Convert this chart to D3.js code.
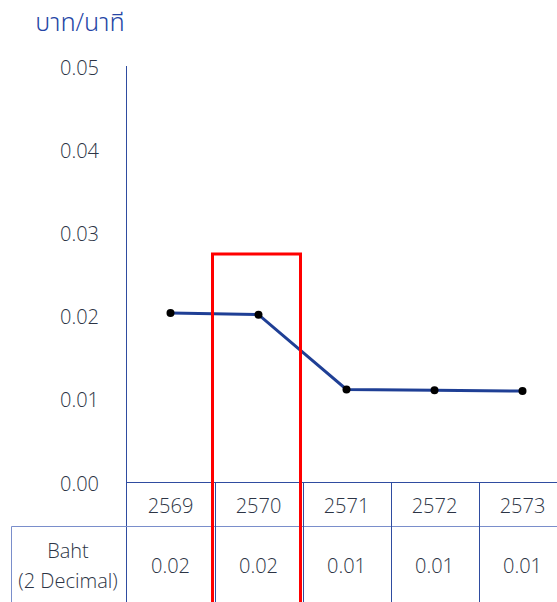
<!DOCTYPE html>
<html><head><meta charset="utf-8">
<script src="https://cdn.jsdelivr.net/npm/d3@7"></script>
<style>
html,body{margin:0;padding:0;background:#fff;}
svg{display:block;font-family:"Open Sans","Noto Sans","Noto Sans Thai",sans-serif;}
</style></head>
<body>
<svg id="c" width="557" height="602"></svg>
<script>
const years = ["2569","2570","2571","2572","2573"];
const values = [0.0204, 0.0202, 0.0112, 0.0111, 0.0110];
const tableLabels = ["0.02","0.02","0.01","0.01","0.01"];
const yTicks = [0, 0.01, 0.02, 0.03, 0.04, 0.05];
const unitLabel = "บาท/นาที";
const rowLabel = ["Baht", "(2 Decimal)"];
const highlightYear = "2570";
const highlightTop = 0.0275;

const svg = d3.select("#c");
const blue = "#2F4CA0";
const textCol = "#2c3445";
const fw = 300;
const fs = 20;

const x = d3.scaleBand().domain(years).range([126.5, 566.5]).padding(0);
const y = d3.scaleLinear().domain([0, 0.05]).range([482.5, 67]);

// unit label
svg.append("text").attr("x", 80).attr("y", 31).attr("text-anchor", "middle")
  .attr("fill", "#2545a5").attr("font-size", 25).attr("font-weight", 300).text(unitLabel);

// y tick labels
svg.append("g").selectAll("text").data(yTicks).join("text")
  .attr("x", 99).attr("y", d => y(d) + 1).attr("dy", "0.35em")
  .attr("text-anchor", "end").attr("fill", textCol).attr("font-size", fs).attr("font-weight", fw)
  .text(d => d3.format(".2f")(d));

// y axis line
const yAxis = d3.axisLeft(y).tickValues([]).tickSize(0);
svg.append("g").attr("transform", "translate(126.5,0)").call(yAxis)
  .call(g => g.select(".domain").attr("stroke", blue).attr("d", `M0,${y(0.05)-1}V602`));

// table lines
const tbl = svg.append("g").attr("stroke", blue).attr("stroke-width", 1);
const rowTop = 482.5, rowMid = 526.5, rowBot = 602;
tbl.append("line").attr("x1", 126.5).attr("x2", 557).attr("y1", rowTop).attr("y2", rowTop);
tbl.append("line").attr("x1", 11.5).attr("x2", 557).attr("y1", rowMid).attr("y2", rowMid).attr("stroke", "#7a8ecb");
tbl.append("line").attr("x1", 11.5).attr("x2", 11.5).attr("y1", rowMid).attr("y2", rowBot).attr("stroke", "#7a8ecb");
tbl.selectAll("line.v").data(years.slice(1)).join("line").attr("class", "v")
  .attr("x1", d => Math.round(x(d)) + 0.5).attr("x2", d => Math.round(x(d)) + 0.5)
  .attr("y1", rowTop).attr("y2", rowBot);

// year labels
svg.append("g").selectAll("text").data(years).join("text")
  .attr("x", d => x(d) + x.bandwidth() / 2).attr("y", (rowTop + rowMid) / 2 + 1).attr("dy", "0.35em")
  .attr("text-anchor", "middle").attr("fill", textCol).attr("font-size", fs).attr("font-weight", fw).text(d => d);

// value labels
svg.append("g").selectAll("text").data(tableLabels).join("text")
  .attr("x", (d, i) => x(years[i]) + x.bandwidth() / 2).attr("y", 566).attr("dy", "0.35em")
  .attr("text-anchor", "middle").attr("fill", textCol).attr("font-size", fs).attr("font-weight", fw).text(d => d);

// row label
svg.append("g").selectAll("text").data(rowLabel).join("text")
  .attr("x", 68).attr("y", (d, i) => 551 + i * 30).attr("dy", "0.35em")
  .attr("text-anchor", "middle").attr("fill", textCol).attr("font-size", fs).attr("font-weight", fw).text(d => d);

// line
const pts = years.map((yr, i) => [x(yr) + x.bandwidth() / 2, y(values[i])]);
svg.append("path").attr("d", d3.line()(pts)).attr("fill", "none")
  .attr("stroke", "#1F3F95").attr("stroke-width", 3);
svg.append("g").selectAll("circle").data(pts).join("circle")
  .attr("cx", d => d[0]).attr("cy", d => d[1]).attr("r", 4).attr("fill", "#000");

// highlight rect
const hx0 = x(highlightYear) - 2, hx1 = x(highlightYear) + x.bandwidth() - 2;
svg.append("path")
  .attr("d", `M${hx0},${rowBot + 5}V${y(highlightTop)}H${hx1}V${rowBot + 5}`)
  .attr("fill", "none").attr("stroke", "#FF0000").attr("stroke-width", 3);
</script>
</body></html>
